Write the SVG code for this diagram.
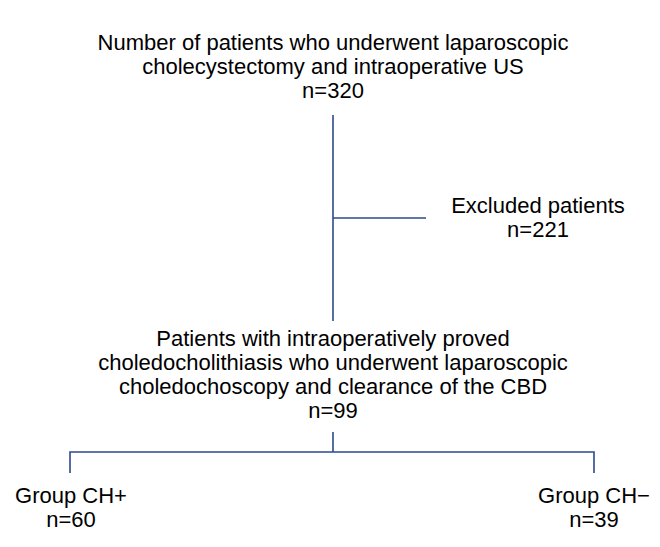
<svg xmlns="http://www.w3.org/2000/svg" width="660" height="547" viewBox="0 0 660 547">
<style>
text{font-family:"Liberation Sans",Arial,sans-serif;font-size:22px;fill:#000;text-anchor:middle}
.c{stroke:#2e4a8f;stroke-width:1.6;fill:none}
</style>
<rect width="660" height="547" fill="#fff"/>
<g id="top"><text x="333" y="50">Number of patients who underwent laparoscopic</text><text x="333" y="74">cholecystectomy and intraoperative US</text><text x="333" y="98">n=320</text></g>
<g id="excluded"><text x="538" y="213">Excluded patients</text><text x="538" y="237">n=221</text></g>
<g id="mid"><text x="333" y="346">Patients with intraoperatively proved</text><text x="333" y="370">choledocholithiasis who underwent laparoscopic</text><text x="333" y="394">choledochoscopy and clearance of the CBD</text><text x="333" y="418">n=99</text></g>
<g id="chp"><text x="71" y="503">Group CH+</text><text x="71" y="527">n=60</text></g>
<g id="chm"><text x="594" y="503">Group CH−</text><text x="594" y="527">n=39</text></g>
<g id="connectors">
<path class="c" d="M333 115V321M333 218H426M333 432V452M70 473V452H594V473"/>
</g>
</svg>
